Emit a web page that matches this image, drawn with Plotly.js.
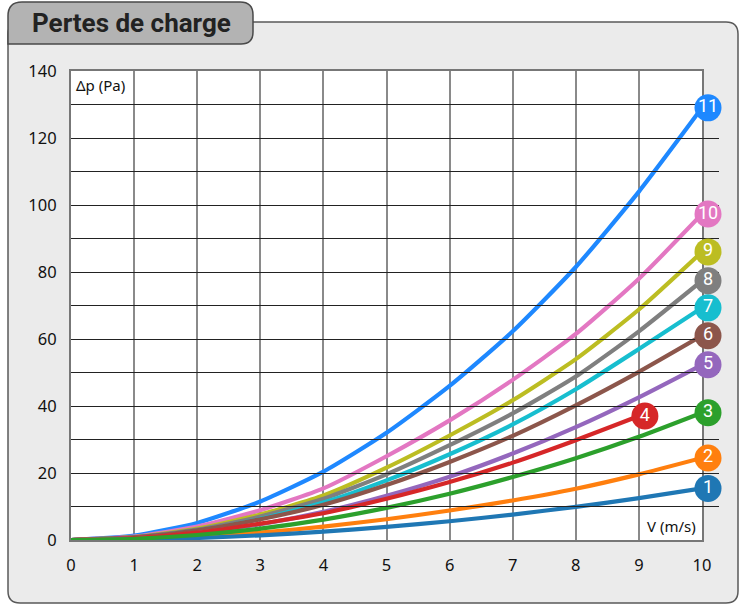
<!DOCTYPE html>
<html><head><meta charset="utf-8">
<script src="https://cdn.plot.ly/plotly-3.0.1.min.js"></script>
<style>html,body{margin:0;padding:0;background:#fff}#chart{width:739px;height:605px}</style>
</head><body><div id="chart"></div>
<script>
// ---- data ----
const velocity = [0,1,2,3,4,5,6,7,8,9,10];
const velocity4 = [0,1,2,3,4,5,6,7,8,9];
const series1  = [0,0.16,0.6,1.4,2.5,3.9,5.6,7.6,9.9,12.5,15.4];
const series2  = [0,0.25,1.0,2.2,4.0,6.2,8.8,11.8,15.3,19.6,24.5];
const series3  = [0,0.38,1.5,3.4,6.1,9.6,13.8,18.8,24.4,30.8,38];
const series4  = [0,0.57,2.2,4.9,8.0,12.3,17.3,23.1,29.8,37];
const series5  = [0,0.53,2.1,4.7,8.4,13.2,18.9,25.8,33.7,42.6,52.3];
const series6  = [0,0.77,2.9,6.2,10.5,16.4,23.3,31.1,40.2,50.2,61];
const series7  = [0,0.7,2.8,6.3,11.2,17.8,25.6,34.5,45,57,69.3];
const series8  = [0,0.8,3.1,7.0,12.3,19.6,28.3,37.8,48.8,62.3,77.4];
const series9  = [0,0.86,3.4,7.6,13.3,21.6,31.2,41.7,54,68.8,86];
const series10 = [0,1.0,4.0,8.9,15.4,25.0,35.7,47.8,61.5,78,97.3];
const series11 = [0,1.3,5.1,11.5,20.4,32,46,62.3,81.5,104,129];
const seriesNames = ['1','2','3','4','5','6','7','8','9','10','11'];
const yTickVals = [0,20,40,60,80,100,120,140];
const xTickVals = [0,1,2,3,4,5,6,7,8,9,10];
const titleText = 'Pertes de charge';
const yLabel = 'Δp (Pa)';
const xLabel = 'V (m/s)';

const colors = ['#1f77b4','#ff7f0e','#2ca02c','#d62728','#9467bd','#8c564b','#17becf','#7f7f7f','#bcbd22','#e377c2','#1e88ff'];
const ys = [series1,series2,series3,series4,series5,series6,series7,series8,series9,series10,series11];
const xs = ys.map((s,i)=> i===3 ? velocity4 : velocity);

const drawOrder = [10,9,8,7,6,5,4,3,1,0,2];
const traces = [];
drawOrder.forEach(i=>{
  traces.push({x:xs[i], y:ys[i], mode:'lines', line:{color:colors[i], width:4.2, shape:'spline', smoothing:0.6},
    hoverinfo:'skip', showlegend:false, cliponaxis:false});
});
// end badges drawn on a second, slightly shifted x scale so they sit just past each line end
ys.forEach((s,i)=>{
  const n = s.length-1;
  traces.push({x:[xs[i][n]], y:[s[n]], xaxis:'x2', mode:'markers+text', text:[seriesNames[i]],
    textposition:'middle center', textfont:{color:'#ffffff', size:18, family:'Roboto'},
    marker:{size:27, color:colors[i], line:{width:0}}, cliponaxis:false, showlegend:false, hoverinfo:'skip'});
});

// ---- layout geometry (pixels) ----
const W=739, H=605, L=71, R=20, T=71, B=65;
const pw = W-L-R, ph = H-T-B;
const plotRight = 702;                 // right edge of the main grid, px
const unitPx = (plotRight-L)/10;       // px per m/s
const badgeShift = 6;                  // px
const px = v => (v-L)/pw;
const py = v => (H-B-v)/ph;
function path(pts){ return pts.map(p=>{
  if(p[0]==='Q') return 'Q'+px(p[1])+','+py(p[2])+' '+px(p[3])+','+py(p[4]);
  return p[0]+px(p[1])+','+py(p[2]);
}).join(' ');}
const r=12;
const box = path([['M',8,22+r],['L',8,603-r],['Q',8,603,8+r,603],['L',738-r,603],['Q',738,603,738,603-r],
  ['L',738,22+r],['Q',738,22,738-r,22],['L',8+r,22],['Q',8,22,8,22+r]])+' Z';
const tab = path([['M',8,44],['L',8,16],['Q',8,2,22,2],['L',240,2],['Q',253,2,253,15],['L',253,32],
  ['Q',253,44,241,44]])+' Z';

const x2min = -badgeShift/unitPx;
const x2max = x2min + pw/unitPx;
const tickFont = {size:16.5, family:'Noto Sans', color:'#111'};
const layout = {
  width:W, height:H,
  margin:{l:L, r:R, t:T, b:B, pad:0},
  paper_bgcolor:'#ffffff', plot_bgcolor:'rgba(0,0,0,0)',
  font:{family:'Noto Sans, sans-serif', color:'#111'},
  showlegend:false,
  xaxis:{domain:[0,(plotRight-L)/pw], range:[0,10], tickvals:xTickVals, showgrid:true, gridcolor:'#8a8a8a', gridwidth:2,
    zeroline:false, showline:true, mirror:true, linecolor:'#777', linewidth:2,
    ticks:'', ticklabelstandoff:9, tickfont:tickFont, fixedrange:true},
  xaxis2:{domain:[0,1], range:[x2min,x2max], anchor:'y', visible:false, showgrid:false, fixedrange:true},
  yaxis:{range:[0,140], tickvals:yTickVals, showgrid:true, gridcolor:'#222', gridwidth:1,
    minor:{dtick:10, showgrid:true, gridcolor:'#222', gridwidth:1},
    zeroline:false, showline:true, mirror:true, linecolor:'#777', linewidth:2,
    ticks:'', ticklabelstandoff:9, tickfont:tickFont, fixedrange:true},
  shapes:[
    {type:'path', xref:'paper', yref:'paper', path:box, fillcolor:'#ebebeb', line:{color:'#5a5a5a', width:1.5}, layer:'below'},
    {type:'rect', xref:'paper', yref:'paper', x0:0, x1:(plotRight-L)/pw, y0:0, y1:1, fillcolor:'#ffffff', line:{width:0}, layer:'below'},
    {type:'path', xref:'paper', yref:'paper', path:tab, fillcolor:'#b3b3b3', line:{color:'#4a4a4a', width:1.5}, layer:'above'}
  ],
  annotations:[
    {xref:'paper', yref:'paper', x:px(131), y:py(23), text:'<b>'+titleText+'</b>', showarrow:false,
      xanchor:'center', yanchor:'middle', font:{size:26, family:'Roboto', color:'#222'}},
    {xref:'paper', yref:'paper', x:px(74), y:py(85), text:yLabel, showarrow:false,
      xanchor:'left', yanchor:'middle', font:{size:15, family:'Noto Sans', color:'#111'}},
    {xref:'paper', yref:'paper', x:px(698), y:py(526), text:xLabel, showarrow:false,
      xanchor:'right', yanchor:'middle', font:{size:15, family:'Noto Sans', color:'#111'}}
  ]
};
Plotly.newPlot('chart', traces, layout, {displayModeBar:false, staticPlot:true});
</script>
</body></html>
